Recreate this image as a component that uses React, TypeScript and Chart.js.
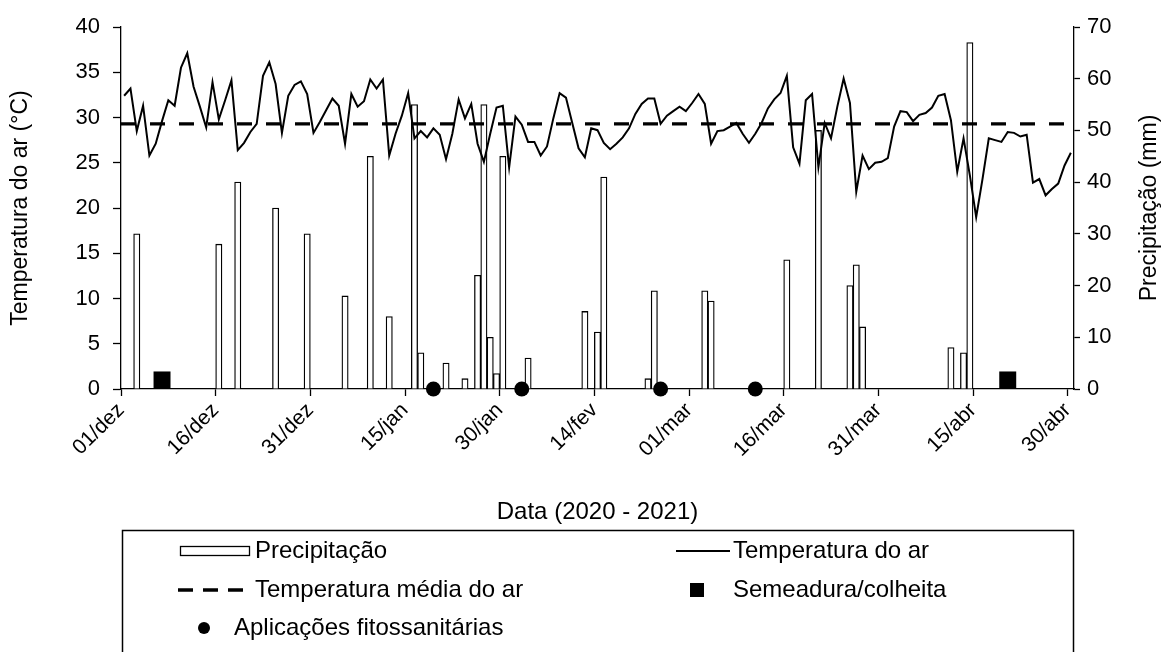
import { useEffect, useRef } from "react";
import { Chart, registerables } from "chart.js";

Chart.register(...registerables);

const WIDTH = 1166;
const HEIGHT = 652;
const FONT = '"Liberation Sans", Arial, Helvetica, sans-serif';

// Day index 0 = 01/dez/2020, last = 30/abr/2021
const xTickDays = [0, 15, 30, 45, 60, 75, 90, 105, 120, 135, 150];
const xTickLabels = [
  "01/dez", "16/dez", "31/dez", "15/jan", "30/jan", "14/fev",
  "01/mar", "16/mar", "31/mar", "15/abr", "30/abr",
];

// Daily air temperature (°C)
const temperature = [
  32.4, 33.2, 28.5, 31.3, 25.8, 27.1, 29.6, 31.9, 31.3, 35.5,
  37.1, 33.4, 31.2, 28.9, 33.9, 29.8, 31.9, 34.1, 26.4, 27.2,
  28.4, 29.3, 34.6, 36.1, 33.7, 28.3, 32.4, 33.6, 34.0, 32.6,
  28.3, 29.5, 30.8, 32.1, 31.3, 27.1, 32.6, 31.2, 31.8, 34.2,
  33.2, 34.2, 25.8, 28.2, 30.2, 32.7, 27.7, 28.5, 27.8, 28.8,
  28.1, 25.4, 28.2, 32.0, 29.9, 31.5, 27.1, 25.1, 28.2, 31.1,
  31.3, 24.5, 30.1, 29.2, 27.3, 27.3, 25.8, 26.8, 29.9, 32.7,
  32.2, 29.4, 26.6, 25.6, 28.8, 28.6, 27.2, 26.5, 27.1, 27.8,
  28.8, 30.4, 31.5, 32.1, 32.1, 29.3, 30.2, 30.7, 31.2, 30.7,
  31.6, 32.6, 31.5, 27.1, 28.5, 28.6, 29.0, 29.4, 28.2, 27.2,
  28.2, 29.4, 31.0, 32.0, 32.7, 34.6, 26.7, 24.9, 31.9, 32.6,
  24.5, 29.4, 27.7, 31.2, 34.3, 31.6, 21.8, 25.8, 24.3, 25.0,
  25.1, 25.5, 29.0, 30.7, 30.6, 29.6, 30.3, 30.5, 31.1, 32.4,
  32.6, 29.7, 24.0, 27.7, 23.6, 19.0, 23.2, 27.7, 27.5, 27.3,
  28.4, 28.3, 27.9, 28.1, 22.8, 23.2, 21.4, 22.1, 22.7, 24.7,
  26.1,
];

const meanTemperature = 29.3;

// Rainy days and rainfall (mm)
const precipDays = [
  2, 15, 18, 24, 29, 35, 39, 42, 46, 47, 51, 54, 56, 57, 58, 59, 60,
  64, 73, 75, 76, 83, 84, 92, 93, 105, 110, 115, 116, 117, 131, 133, 134,
];
const precipMm = [
  30, 28, 40, 35, 30, 18, 45, 14, 55, 7, 5, 2, 22, 55, 10, 3, 45,
  6, 15, 11, 41, 2, 19, 19, 17, 25, 50, 20, 24, 12, 8, 7, 67,
];

// Crop operations
const sowHarvestDays = [6, 140];
const sowHarvestLevel = 1;
const sprayDays = [49, 63, 85, 100];
const sprayLevel = 0;

const lastDay = temperature.length - 1;

const decorations = {
  id: "decorations",
  afterDraw(chart: any) {
    const { ctx, chartArea } = chart;
    ctx.save();
    ctx.fillStyle = "#000";
    ctx.strokeStyle = "#000";
    ctx.textAlign = "center";
    ctx.textBaseline = "middle";
    const midY = (chartArea.top + chartArea.bottom) / 2;

    ctx.font = `24px ${FONT}`;
    ctx.fillText("Data (2020 - 2021)", (chartArea.left + chartArea.right) / 2, 512);

    ctx.font = `23px ${FONT}`;
    ctx.save();
    ctx.translate(21, midY);
    ctx.rotate(-Math.PI / 2);
    ctx.fillText("Temperatura do ar (°C)", 0, 0);
    ctx.restore();

    ctx.save();
    ctx.translate(1150, midY);
    ctx.rotate(-Math.PI / 2);
    ctx.fillText("Precipitação (mm)", 0, 0);
    ctx.restore();

    // legend frame
    ctx.lineWidth = 1.5;
    ctx.strokeRect(122.5, 530.5, 951, 160);

    ctx.font = `24px ${FONT}`;
    ctx.textAlign = "left";
    const row1 = 551, row2 = 590, row3 = 628;

    // Precipitação
    ctx.lineWidth = 1.3;
    ctx.fillStyle = "#fff";
    ctx.fillRect(180, row1 - 5, 70, 10);
    ctx.strokeRect(180.5, row1 - 4.5, 69, 9);
    ctx.fillStyle = "#000";
    ctx.fillText("Precipitação", 255, row1);

    // Temperatura do ar
    ctx.lineWidth = 2;
    ctx.beginPath();
    ctx.moveTo(676, row1);
    ctx.lineTo(730, row1);
    ctx.stroke();
    ctx.fillText("Temperatura do ar", 733, row1);

    // Temperatura média do ar
    ctx.lineWidth = 3.3;
    ctx.setLineDash([15, 10]);
    ctx.beginPath();
    ctx.moveTo(178, row2);
    ctx.lineTo(252, row2);
    ctx.stroke();
    ctx.setLineDash([]);
    ctx.fillText("Temperatura média do ar", 255, row2);

    // Semeadura/colheita
    ctx.fillRect(690, row2 - 7, 14, 14);
    ctx.fillText("Semeadura/colheita", 733, row2);

    // Aplicações fitossanitárias
    ctx.beginPath();
    ctx.arc(204, row3, 6, 0, Math.PI * 2);
    ctx.fill();
    ctx.fillText("Aplicações fitossanitárias", 234, row3);

    ctx.restore();
  },
};

export default function App() {
  const canvasRef = useRef<HTMLCanvasElement | null>(null);

  useEffect(() => {
    const canvas = canvasRef.current;
    if (!canvas) return;

    const chart = new Chart(canvas, {
      type: "bar",
      data: {
        datasets: [
          {
            type: "scatter",
            label: "Aplicações fitossanitárias",
            data: sprayDays.map((d) => ({ x: d, y: sprayLevel })),
            yAxisID: "y",
            pointStyle: "circle",
            pointRadius: 7.5,
            backgroundColor: "#000",
            borderColor: "#000",
            borderWidth: 0,
            clip: false,
            order: 0,
          } as any,
          {
            type: "scatter",
            label: "Semeadura/colheita",
            data: sowHarvestDays.map((d) => ({ x: d, y: sowHarvestLevel })),
            yAxisID: "y",
            pointStyle: "rect",
            pointRadius: 12,
            backgroundColor: "#000",
            borderColor: "#000",
            borderWidth: 0,
            clip: false,
            order: 0,
          } as any,
          {
            type: "line",
            label: "Temperatura do ar",
            data: temperature.map((t, i) => ({ x: i, y: t })),
            yAxisID: "y",
            borderColor: "#000",
            borderWidth: 2,
            pointRadius: 0,
            tension: 0,
            fill: false,
            order: 1,
          } as any,
          {
            type: "line",
            label: "Temperatura média do ar",
            data: [
              { x: -0.5, y: meanTemperature },
              { x: lastDay + 0.5, y: meanTemperature },
            ],
            yAxisID: "y",
            borderColor: "#000",
            borderWidth: 3.3,
            borderDash: [15, 14],
            borderCapStyle: "butt",
            pointRadius: 0,
            fill: false,
            order: 2,
          } as any,
          {
            type: "bar",
            label: "Precipitação",
            data: precipDays.map((d, i) => ({ x: d, y: precipMm[i] })),
            yAxisID: "y1",
            backgroundColor: "#fff",
            borderColor: "#000",
            borderWidth: 1.3,
            barPercentage: 1,
            categoryPercentage: 1,
            order: 3,
          } as any,
        ],
      },
      options: {
        animation: false,
        responsive: false,
        devicePixelRatio: 1,
        layout: { padding: { top: 27, left: 0, right: 0, bottom: 0 } },
        plugins: {
          legend: { display: false },
          tooltip: { enabled: false },
        },
        scales: {
          x: {
            type: "linear",
            offset: false,
            min: -0.5,
            max: lastDay + 0.5,
            afterBuildTicks: (scale: any) => {
              scale.ticks = xTickDays.map((d) => ({ value: d - 0.5 }));
            },
            afterFit: (scale: any) => {
              scale.height = HEIGHT - 389;
            },
            border: { display: true, color: "#000", width: 1.3 },
            grid: {
              offset: false,
              drawOnChartArea: false,
              drawTicks: true,
              tickLength: 7,
              tickColor: "#000",
              tickWidth: 1.3,
            },
            ticks: {
              autoSkip: false,
              minRotation: 45,
              maxRotation: 45,
              padding: 2,
              color: "#000",
              font: { family: FONT, size: 21 },
              callback: (_v: any, i: number) => xTickLabels[i],
            },
          },
          y: {
            type: "linear",
            position: "left",
            min: 0,
            max: 40,
            afterFit: (scale: any) => {
              scale.width = 121;
            },
            border: { display: true, color: "#000", width: 1.3 },
            grid: {
              drawOnChartArea: false,
              drawTicks: true,
              tickLength: 8,
              tickColor: "#000",
              tickWidth: 1.3,
            },
            ticks: {
              stepSize: 5,
              padding: 13,
              color: "#000",
              font: { family: FONT, size: 22 },
            },
          },
          y1: {
            type: "linear",
            position: "right",
            min: 0,
            max: 70,
            afterFit: (scale: any) => {
              scale.width = WIDTH - 1074;
            },
            border: { display: true, color: "#000", width: 1.3 },
            grid: {
              drawOnChartArea: false,
              drawTicks: true,
              tickLength: 6,
              tickColor: "#000",
              tickWidth: 1.3,
            },
            ticks: {
              stepSize: 10,
              padding: 7,
              color: "#000",
              font: { family: FONT, size: 22 },
            },
          },
        },
      } as any,
      plugins: [decorations],
    });

    return () => chart.destroy();
  }, []);

  return (
    <div style={{ position: "absolute", left: 0, top: 0, width: WIDTH, height: HEIGHT, background: "#fff" }}>
      <canvas ref={canvasRef} width={WIDTH} height={HEIGHT} style={{ display: "block" }} />
    </div>
  );
}
